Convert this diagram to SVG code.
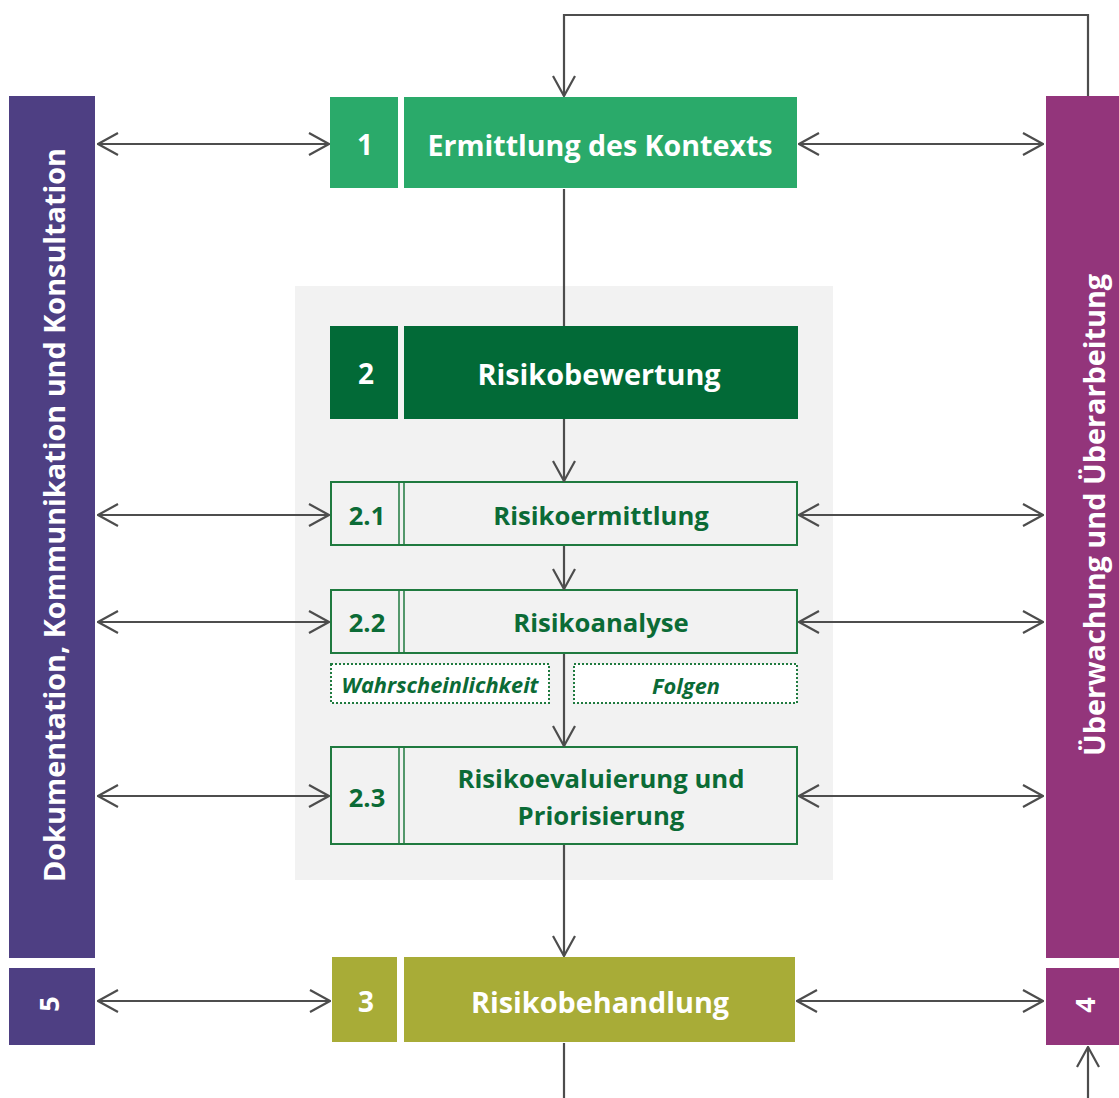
<svg xmlns="http://www.w3.org/2000/svg" width="1119" height="1098" viewBox="0 0 1119 1098">
<defs>
<marker id="ah" viewBox="0 0 22 24" refX="21" refY="12" markerWidth="22" markerHeight="24" markerUnits="userSpaceOnUse" orient="auto-start-reverse">
<path d="M1,1 L21,12 L1,23" fill="none" stroke="#4d4d4d" stroke-width="2.2"/>
</marker>
<style>
.t{font-family:"Open Sans","Liberation Sans",sans-serif;font-weight:700;text-anchor:middle;dominant-baseline:central}
.w{fill:#ffffff}
.g{fill:#0b6b36}
.c{stroke:#4d4d4d;stroke-width:2.2;fill:none}
.sub{fill:#f2f2f2;stroke:#1f7a3f;stroke-width:2}
.dot{fill:#ffffff;stroke:#1f7a3f;stroke-width:2;stroke-dasharray:2 2}
</style>
</defs>
<rect width="1119" height="1098" fill="#ffffff"/>
<rect x="295" y="286" width="538" height="594" fill="#f2f2f2"/>

<g id="side-left">
<rect x="9" y="96" width="86" height="862" fill="#4e3f83"/>
<text class="t w" font-size="28.8" transform="translate(53,515) rotate(-90)">Dokumentation, Kommunikation und Konsultation</text>
</g>
<g id="node-5">
<rect x="9" y="968" width="86" height="77" fill="#4e3f83"/>
<text class="t w" font-size="27" transform="translate(48,1004) rotate(-90)">5</text>
</g>
<g id="side-right">
<rect x="1046" y="96" width="73" height="862" fill="#93357b"/>
<text class="t w" font-size="28.8" transform="translate(1093,515) rotate(-90)">Überwachung und Überarbeitung</text>
</g>
<g id="node-4">
<rect x="1046" y="968" width="73" height="77" fill="#93357b"/>
<text class="t w" font-size="27" transform="translate(1084,1005) rotate(-90)">4</text>
</g>

<g id="node-1">
<rect x="330" y="97" width="68" height="91" fill="#2aaa6a"/>
<rect x="404" y="97" width="393" height="91" fill="#2aaa6a"/>
<text class="t w" x="365" y="144" font-size="28">1</text>
<text class="t w" x="600" y="144" font-size="28.6">Ermittlung des Kontexts</text>
</g>
<g id="node-2">
<rect x="330" y="326" width="68" height="93" fill="#026a37"/>
<rect x="404" y="326" width="394" height="93" fill="#026a37"/>
<text class="t w" x="366" y="373" font-size="28">2</text>
<text class="t w" x="599" y="373" font-size="28.8">Risikobewertung</text>
</g>
<g id="node-2-1">
<rect class="sub" x="331" y="482" width="466" height="63"/>
<line x1="399" y1="482" x2="399" y2="545" stroke="#1f7a3f" stroke-width="1.5"/>
<line x1="404" y1="482" x2="404" y2="545" stroke="#1f7a3f" stroke-width="1.5"/>
<text class="t g" x="367" y="515" font-size="25.5">2.1</text>
<text class="t g" x="601" y="515" font-size="25.7">Risikoermittlung</text>
</g>
<g id="node-2-2">
<rect class="sub" x="331" y="590" width="466" height="63"/>
<line x1="399" y1="590" x2="399" y2="653" stroke="#1f7a3f" stroke-width="1.5"/>
<line x1="404" y1="590" x2="404" y2="653" stroke="#1f7a3f" stroke-width="1.5"/>
<text class="t g" x="367" y="622" font-size="25.5">2.2</text>
<text class="t g" x="601" y="622" font-size="25.7">Risikoanalyse</text>
</g>
<g id="node-wahrscheinlichkeit">
<rect class="dot" x="331" y="664" width="218" height="39"/>
<text class="t g" x="440" y="684" font-size="21.8" font-style="italic">Wahrscheinlichkeit</text>
</g>
<g id="node-folgen">
<rect class="dot" x="574" y="664" width="223" height="39"/>
<text class="t g" x="686" y="685" font-size="21.8" font-style="italic">Folgen</text>
</g>
<g id="node-2-3">
<rect class="sub" x="331" y="747" width="466" height="97"/>
<line x1="399" y1="747" x2="399" y2="844" stroke="#1f7a3f" stroke-width="1.5"/>
<line x1="404" y1="747" x2="404" y2="844" stroke="#1f7a3f" stroke-width="1.5"/>
<text class="t g" x="367" y="797" font-size="25.5">2.3</text>
<text class="t g" x="601" y="778" font-size="25.7">Risikoevaluierung und</text>
<text class="t g" x="601" y="815" font-size="25.7">Priorisierung</text>
</g>
<g id="node-3">
<rect x="332" y="957" width="65" height="85" fill="#a8ac37"/>
<rect x="404" y="957" width="391" height="85" fill="#a8ac37"/>
<text class="t w" x="366" y="1001" font-size="28">3</text>
<text class="t w" x="600" y="1001" font-size="28.8">Risikobehandlung</text>
</g>

<g id="connectors">
<path class="c" d="M1088,96 V15 H564 V96" marker-end="url(#ah)"/>
<path class="c" d="M564,189 V326"/>
<path class="c" d="M564,419 V481" marker-end="url(#ah)"/>
<path class="c" d="M564,546 V589" marker-end="url(#ah)"/>
<path class="c" d="M564,654 V746" marker-end="url(#ah)"/>
<path class="c" d="M564,845 V956" marker-end="url(#ah)"/>
<path class="c" d="M564,1043 V1098"/>
<path class="c" d="M1088,1098 V1047" marker-end="url(#ah)"/>
<path class="c" d="M98,144 H329" marker-start="url(#ah)" marker-end="url(#ah)"/>
<path class="c" d="M98,515 H329" marker-start="url(#ah)" marker-end="url(#ah)"/>
<path class="c" d="M98,622 H329" marker-start="url(#ah)" marker-end="url(#ah)"/>
<path class="c" d="M98,796 H329" marker-start="url(#ah)" marker-end="url(#ah)"/>
<path class="c" d="M98,1001 H330" marker-start="url(#ah)" marker-end="url(#ah)"/>
<path class="c" d="M799,144 H1043" marker-start="url(#ah)" marker-end="url(#ah)"/>
<path class="c" d="M799,515 H1043" marker-start="url(#ah)" marker-end="url(#ah)"/>
<path class="c" d="M799,622 H1043" marker-start="url(#ah)" marker-end="url(#ah)"/>
<path class="c" d="M799,796 H1043" marker-start="url(#ah)" marker-end="url(#ah)"/>
<path class="c" d="M797,1001 H1043" marker-start="url(#ah)" marker-end="url(#ah)"/>
</g>
</svg>
